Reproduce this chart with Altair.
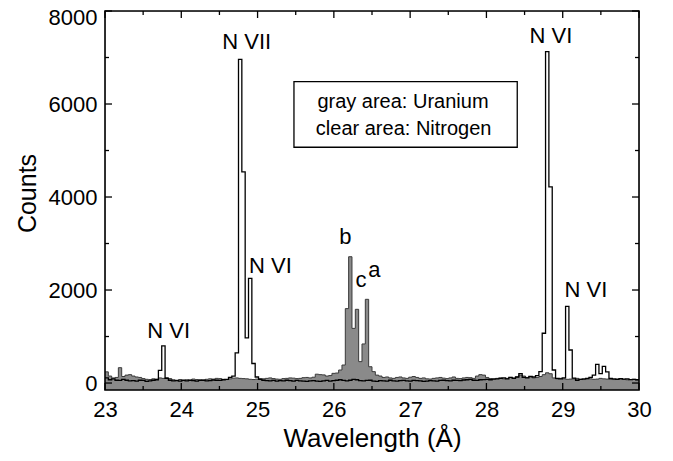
import altair as alt
import pandas as pd

# ---------------- data ----------------
BIN_START = 23.0
BIN_WIDTH = 0.04375   # Å per histogram bin (160 bins from 23 to 30 Å)

uranium = [
    240, 150, 110, 120, 330, 140, 170, 180, 150, 130,
    120, 95, 80, 75, 90, 85, 110, 100, 115, 95,
    70, 60, 75, 65, 70, 60, 85, 75, 70, 65,
    80, 90, 85, 100, 95, 80, 75, 90, 105, 110,
    100, 95, 90, 80, 75, 85, 95, 90, 100, 110,
    95, 85, 80, 95, 100, 110, 105, 95, 100, 115,
    120, 110, 125, 190, 180, 175, 150, 160, 208, 215,
    280, 387, 1600, 2716, 1175, 1585, 460, 840, 1800, 350,
    245, 170, 150, 120, 130, 110, 100, 120, 130, 110,
    100, 125, 140, 120, 100, 110, 90, 85, 100, 110,
    120, 105, 95, 110, 130, 100, 95, 110, 120, 115,
    100, 150, 180, 170, 120, 95, 90, 100, 110, 90,
    100, 120, 110, 130, 170, 150, 120, 140, 110, 120,
    140, 180, 220, 200, 110, 90, 100, 90, 80, 85,
    90, 100, 80, 75, 85, 90, 80, 85, 100, 90,
    85, 80, 75, 85, 90, 80, 70, 75, 80, 70,
]

nitrogen = [
    110, 70, 90, 60, 55, 80, 60, 45, 50, 40,
    60, 55, 35, 45, 60, 70, 270, 800, 100, 60,
    45, 50, 40, 55, 45, 60, 50, 40, 55, 60,
    45, 50, 65, 60, 55, 70, 80, 120, 150, 650,
    6960, 4540, 970, 2250, 420, 130, 80, 60, 50, 45,
    55, 40, 50, 45, 60, 50, 40, 55, 45, 40,
    35, 45, 50, 40, 35, 45, 55, 40, 50, 60,
    70, 55, 45, 60, 80, 70, 50, 45, 55, 60,
    40, 35, 50, 45, 40, 60, 45, 40, 50, 55,
    45, 40, 55, 50, 45, 35, 40, 50, 45, 40,
    55, 60, 50, 45, 60, 55, 50, 65, 70, 80,
    60, 55, 70, 75, 80, 70, 85, 90, 100, 110,
    90, 120, 100, 130, 200, 120, 110, 140, 130, 160,
    245, 1070, 7125, 4220, 280, 100, 90, 110, 1650, 710,
    107, 60, 80, 90, 100, 120, 170, 400, 200, 360,
    240, 100, 90, 80, 95, 85, 90, 75, 80, 70,
]

x_ticks_major = [23, 24, 25, 26, 27, 28, 29, 30]
x_ticks_minor = [23.5, 24.5, 25.5, 26.5, 27.5, 28.5, 29.5]
y_ticks_major = [0, 2000, 4000, 6000, 8000]
y_ticks_minor = [1000, 3000, 5000, 7000]

X_DOMAIN = [23, 30]
Y_DOMAIN = [-150, 8000]

ann_labels = ["N VII", "N VI", "N VI", "b", "c", "a", "N VI", "N VI"]
ann_lam = [24.857, 25.169, 23.835, 26.152, 26.355, 26.532, 28.845, 29.304]
ann_cnt = [7333, 2516, 1118, 3130, 2210, 2440, 7466, 2000]

box_lam = [25.477, 28.404]
box_cnt = [5070, 6480]
legend_lines = ["gray area: Uranium", "clear area: Nitrogen"]
legend_lam = [26.906, 26.915]
legend_cnt = [6043, 5460]

# ---------------- tables ----------------
n = len(uranium)
lam = [BIN_START + k * BIN_WIDTH for k in range(n + 1)]
df = pd.DataFrame({
    "lam": lam,
    "uranium": uranium + [uranium[-1]],
    "nitrogen": nitrogen + [nitrogen[-1]],
})
df_ann = pd.DataFrame({"label": ann_labels, "lam": ann_lam, "cnt": ann_cnt})
df_box = pd.DataFrame({"l0": [box_lam[0]], "l1": [box_lam[1]],
                       "c0": [box_cnt[0]], "c1": [box_cnt[1]]})
df_leg = pd.DataFrame({"label": legend_lines, "lam": legend_lam, "cnt": legend_cnt})

FONT = "Liberation Sans"
W, H = 534, 379
MAJ, MIN = 7, 4

xs = alt.Scale(domain=X_DOMAIN, nice=False, zero=False)
ys = alt.Scale(domain=Y_DOMAIN, nice=False, zero=False)

xaxis = alt.Axis(values=x_ticks_major, format="d", ticks=False, domain=False, grid=False,
                 labelFontSize=22, labelPadding=9, labelFlush=False,
                 labelColor="black", labelFont=FONT,
                 title="Wavelength (Å)", titleFontSize=26, titleFontWeight="normal",
                 titleFont=FONT, titleColor="black", titleY=56, titleBaseline="alphabetic")
yaxis = alt.Axis(values=y_ticks_major, format="d", ticks=False, domain=False, grid=False,
                 labelFontSize=22, labelPadding=8, labelColor="black", labelFont=FONT,
                 labelFlush=True, labelFlushOffset=4,
                 title="Counts", titleFontSize=25, titleFontWeight="normal",
                 titleFont=FONT, titleColor="black", titleX=-78, titleY=182,
                 titleAlign="center", titleBaseline="middle")


def X(field):
    return alt.X(field, scale=xs, axis=xaxis)


def Y(field):
    return alt.Y(field, scale=ys, axis=yaxis)


base = alt.Chart(df)

area = base.mark_area(interpolate="step-after", color="#8a8a8a").encode(
    x=X("lam:Q"), y=Y("uranium:Q"), y2=alt.datum(Y_DOMAIN[0]),
)
u_line = base.mark_line(interpolate="step-after", color="#3a3a3a", strokeWidth=1).encode(
    x=X("lam:Q"), y=Y("uranium:Q"),
)
n_line = base.mark_line(interpolate="step-after", color="black", strokeWidth=1.3).encode(
    x=X("lam:Q"), y=Y("nitrogen:Q"),
)

ann = alt.Chart(df_ann).mark_text(font=FONT, fontSize=22, align="center",
                                  baseline="middle", color="black").encode(
    x=X("lam:Q"), y=Y("cnt:Q"), text="label:N",
)

box = alt.Chart(df_box).mark_rect(fill="white", stroke="black", strokeWidth=1.3).encode(
    x=X("l0:Q"), x2="l1:Q", y=Y("c0:Q"), y2="c1:Q",
)
leg = alt.Chart(df_leg).mark_text(font=FONT, fontSize=20, align="center",
                                  baseline="middle", color="black").encode(
    x=X("lam:Q"), y=Y("cnt:Q"), text="label:N",
)


def xticks(vals, length, top):
    d = pd.DataFrame({"v": vals})
    if top:
        yy, yy2 = alt.value(0), alt.value(length)
    else:
        yy, yy2 = alt.value(H), alt.value(H - length)
    return alt.Chart(d).mark_rule(color="black", strokeWidth=1.3).encode(
        x=X("v:Q"), y=yy, y2=yy2)


def yticks(vals, length, right):
    d = pd.DataFrame({"v": vals})
    if right:
        xx, xx2 = alt.value(W), alt.value(W - length)
    else:
        xx, xx2 = alt.value(0), alt.value(length)
    return alt.Chart(d).mark_rule(color="black", strokeWidth=1.3).encode(
        y=Y("v:Q"), x=xx, x2=xx2)


frame = alt.Chart(df_box).mark_rect(filled=False, stroke="black", strokeWidth=1.6).encode(
    x=alt.value(0), x2=alt.value(W), y=alt.value(0), y2=alt.value(H))

chart = alt.layer(
    area, u_line, n_line, box, leg, ann,
    xticks(x_ticks_major, MAJ, False), xticks(x_ticks_minor, MIN, False),
    xticks(x_ticks_major, MAJ, True), xticks(x_ticks_minor, MIN, True),
    yticks(y_ticks_major, MAJ, False), yticks(y_ticks_minor, MIN, False),
    yticks(y_ticks_major, MAJ, True), yticks(y_ticks_minor, MIN, True),
    frame,
).properties(
    width=W, height=H,
    autosize=alt.AutoSizeParams(type="none"),
    padding={"left": 97, "top": 3, "right": 26, "bottom": 63},
).configure_view(stroke="transparent").configure(background="white")

chart.save("out.html", embed_options={"renderer": "svg", "actions": False})
